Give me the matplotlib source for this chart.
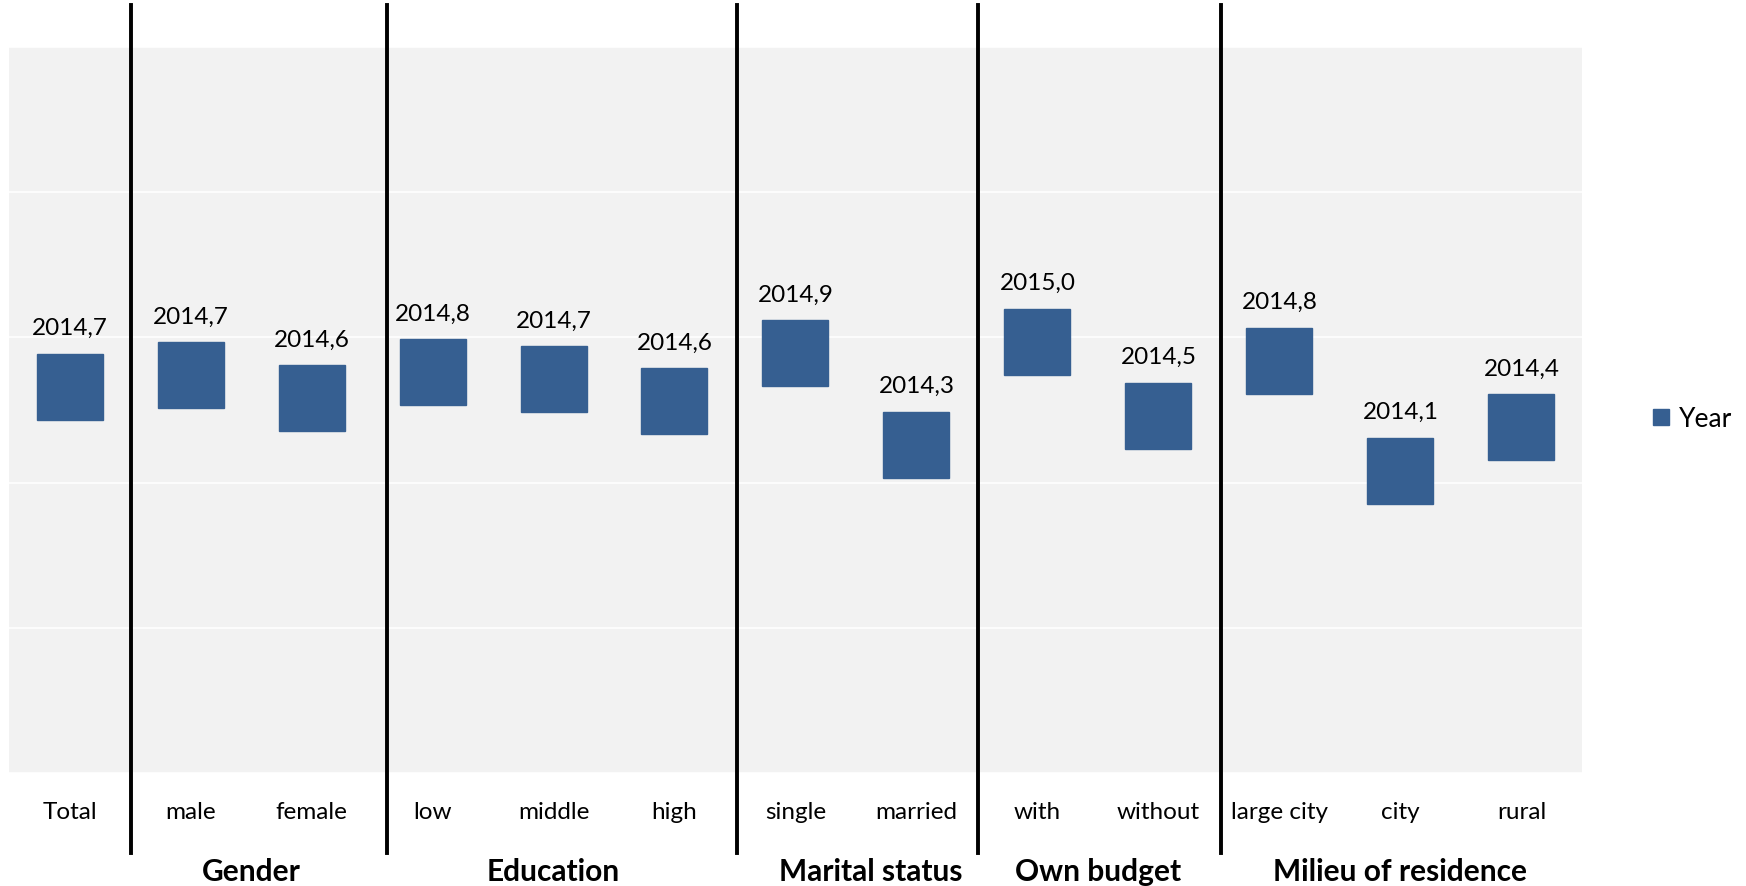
import matplotlib.pyplot as plt
import numpy as np

plt.rcParams['font.family'] = ['Lato', 'DejaVu Sans']

# data
categories = ['Total', 'male', 'female', 'low', 'middle', 'high', 'single', 'married',
              'with', 'without', 'large city', 'city', 'rural']
years = [2014.66, 2014.74, 2014.58, 2014.76, 2014.71, 2014.56, 2014.89, 2014.26,
         2014.97, 2014.46, 2014.84, 2014.08, 2014.38]
groups = ['Gender', 'Education', 'Marital status', 'Own budget', 'Milieu of residence']
group_sizes = [2, 3, 2, 2, 3]

blue = '#365F91'

fig = plt.figure(figsize=(17.46, 8.87), dpi=100)
ax = fig.add_axes([0.0052, 0.1274, 0.9008, 0.8185])
ax.set_facecolor('#F2F2F2')

x = np.arange(len(categories))
ax.plot(x, years, linestyle='none', marker='s', markersize=48, color=blue, label='Year')

# value labels above the squares
for xi, yi in zip(x, years):
    ax.annotate(f'{yi:.1f}'.replace('.', ','), (xi, yi), xytext=(0, 38),
                textcoords='offset points', ha='center', va='baseline', fontsize=17.5)

ax.set_xlim(-0.5, len(categories) - 0.5)
ax.set_ylim(2012, 2017)
ax.set_yticks(np.arange(2012, 2018))
ax.yaxis.grid(True, color='white', linewidth=1.2)
ax.set_axisbelow(True)
ax.tick_params(axis='y', left=False, labelleft=False)
ax.set_xticks(x)
ax.set_xticklabels(categories, fontsize=17.5)
ax.tick_params(axis='x', length=0, pad=20)
for s in ax.spines.values():
    s.set_visible(False)

# separators between groups
sep_x = [0.505, 2.62, 5.52, 7.51, 9.52]
trans = ax.get_xaxis_transform()
for sx in sep_x:
    ax.plot([sx, sx], [-0.110, 1.058], color='black', linewidth=2.8,
            transform=trans, clip_on=False)

# group titles
start = 1
for name, n in zip(groups, group_sizes):
    cx = start + (n - 1) / 2
    if name == 'Marital status':
        cx += 0.12
    ax.text(cx, -0.135, name, transform=trans, ha='center',
            va='center', fontsize=21.5, fontweight='bold')
    start += n

ax.legend(loc='center left', bbox_to_anchor=(1.027, 0.488), frameon=False,
          fontsize=19, markerscale=0.25, handletextpad=0.15, handlelength=1.0)

fig.savefig('out.png', dpi=100)
